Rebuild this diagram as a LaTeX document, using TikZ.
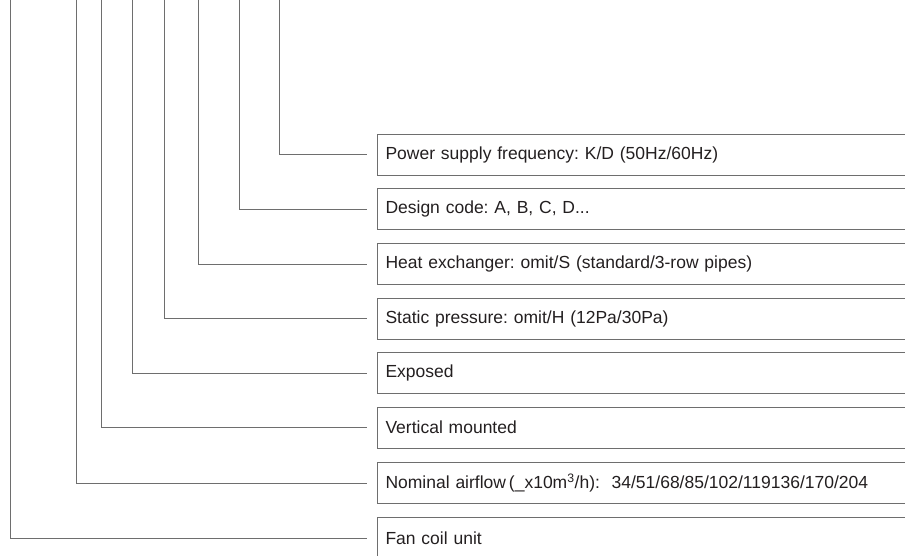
\documentclass[tikz,border=0pt]{standalone}
\usepackage{fontspec}
\setmainfont{Liberation Sans}
\usepackage{tikz}
\usetikzlibrary{positioning,calc}
\frenchspacing
\definecolor{leadgray}{RGB}{110,110,110}
\definecolor{inktext}{RGB}{35,31,32}
\tikzstyle{codebox}=[draw=leadgray,line width=1pt,anchor=west,minimum height=41pt,
  text width=560pt,inner xsep=8pt,align=left,text=inktext,font=\fontsize{17.5}{20}\selectfont]
\tikzstyle{lead}=[draw=leadgray,line width=1pt]

\begin{document}
\begin{tikzpicture}[x=1pt,y=-1pt]
    \useasboundingbox (0,0) rectangle (905,555);
    \clip (0,0) rectangle (905,555);
    % description boxes
    \node [codebox] (freq) at (377,154.5) {Power supply frequency: K/D (50Hz/60Hz)};
    \node [codebox] (design) at (377,209) {Design code: A, B, C, D...};
    \node [codebox] (hex) at (377,264) {Heat exchanger: omit/S (standard/3-row pipes)};
    \node [codebox] (static) at (377,318.5) {Static pressure: omit/H (12Pa/30Pa)};
    \node [codebox] (exposed) at (377,373) {Exposed};
    \node [codebox] (vert) at (377,427.5) {Vertical mounted};
    \node [codebox] (airflow) at (377,483) {Nominal airflow\,(\_x10m\textsuperscript{3}/h):\ \ 34/51/68/85/102/119136/170/204};
    \node [codebox] (fcu) at (377,538) {Fan coil unit};
    % leads coming down from the model code
    \coordinate (cfreq) at (279,-5);
    \coordinate (cdesign) at (239,-5);
    \coordinate (chex) at (198,-5);
    \coordinate (cstatic) at (164,-5);
    \coordinate (cexposed) at (132,-5);
    \coordinate (cvert) at (101,-5);
    \coordinate (cairflow) at (76,-5);
    \coordinate (cfcu) at (10,-5);
    \draw [lead] (cfreq) |- ($(freq.west)+(-10,0)$);
    \draw [lead] (cdesign) |- ($(design.west)+(-10,0)$);
    \draw [lead] (chex) |- ($(hex.west)+(-10,0)$);
    \draw [lead] (cstatic) |- ($(static.west)+(-10,0)$);
    \draw [lead] (cexposed) |- ($(exposed.west)+(-10,0)$);
    \draw [lead] (cvert) |- ($(vert.west)+(-10,0)$);
    \draw [lead] (cairflow) |- ($(airflow.west)+(-10,0)$);
    \draw [lead] (cfcu) |- ($(fcu.west)+(-10,0)$);
\end{tikzpicture}
\end{document}
